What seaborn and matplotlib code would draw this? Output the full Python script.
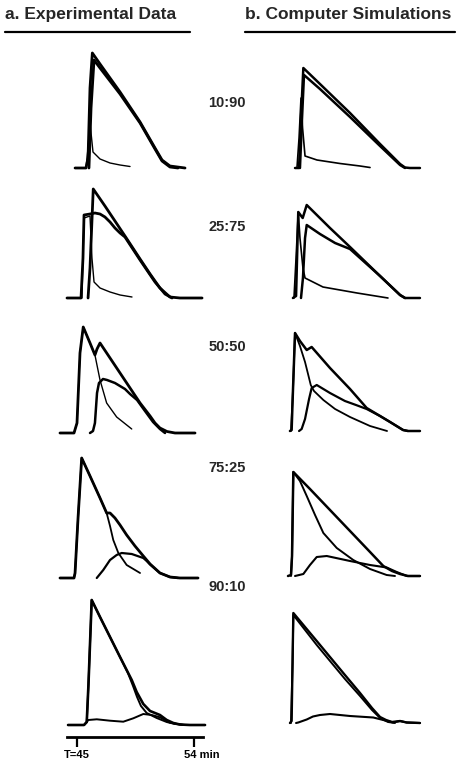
import seaborn as sns
import matplotlib.pyplot as plt
import matplotlib.transforms as mtransforms
from matplotlib.lines import Line2D

# time (min) , detector signal (arbitrary units)
# ---- a. experimental data ----
EXP_10_90_TOTAL = [(44.85, 0), (45.69, 0), (45.85, 10), (46.00, 80), (46.18, 115), (46.77, 104), (48.31, 76),
                   (49.85, 46), (51.00, 20), (51.54, 8), (52.15, 2), (53.31, 0)]
EXP_10_90_SECOND = [(45.92, 0), (46.08, 60), (46.31, 108), (46.77, 100), (48.31, 74), (49.85, 45), (51.00, 19),
                    (51.54, 7), (52.15, 1), (52.77, 0)]
EXP_10_90_FIRST = [(45.69, 0), (45.85, 20), (46.00, 45), (46.12, 30), (46.23, 16), (46.77, 9), (47.54, 5),
                   (48.31, 3), (49.08, 1.5)]

EXP_25_75_TOTAL = [(44.23, 0), (45.31, 0), (45.46, 40), (45.54, 83), (46.00, 84), (46.38, 85), (46.77, 84),
                   (47.15, 81), (47.54, 76), (47.92, 70), (48.31, 65), (48.69, 61), (49.85, 38), (51.00, 16),
                   (51.77, 4), (52.31, 0)]
EXP_25_75_SECOND = [(45.85, 0), (46.00, 30), (46.25, 109), (47.15, 92), (47.92, 77), (48.69, 62), (49.85, 39),
                    (50.62, 24), (51.38, 10), (52.15, 1), (52.92, 0), (54.62, 0)]
EXP_25_75_FIRST = [(45.38, 0), (45.54, 80), (46.00, 82), (46.15, 40), (46.31, 16), (46.77, 10), (47.54, 6),
                   (48.31, 3), (49.23, 1)]

EXP_50_50_TOTAL = [(43.69, 0), (44.77, 0), (45.00, 10), (45.23, 80), (45.48, 106), (46.00, 90), (46.38, 78),
                   (46.54, 84), (46.77, 90), (47.54, 75), (48.31, 60), (49.08, 45), (49.85, 30), (50.62, 17),
                   (51.00, 10), (51.38, 5), (51.92, 1.5), (52.54, 0), (54.08, 0)]
EXP_50_50_FIRST = [(44.77, 0), (45.00, 10), (45.23, 80), (45.48, 106), (46.00, 90), (46.38, 78), (46.77, 53),
                   (47.28, 30), (48.05, 16), (49.21, 4)]
EXP_50_50_SECOND = [(46.00, 0), (46.23, 2), (46.38, 10), (46.54, 40), (46.69, 50), (47.00, 54), (47.31, 53),
                    (47.92, 50), (48.69, 44), (49.08, 39), (49.62, 33), (50.23, 22), (50.85, 11), (51.38, 4),
                    (51.77, 0)]

EXP_75_25_TOTAL = [(43.69, 0), (44.77, 0), (44.85, 5), (45.08, 60), (45.36, 120), (46.00, 102), (46.77, 80),
                   (47.28, 65), (47.54, 65), (47.92, 60), (48.31, 53), (48.82, 43), (49.46, 32), (50.10, 22),
                   (50.62, 14), (51.38, 5), (52.15, 1), (52.92, 0), (54.31, 0)]
EXP_75_25_FIRST = [(44.77, 0), (44.85, 5), (45.08, 60), (45.36, 120), (46.00, 102), (46.77, 80), (47.28, 65),
                   (47.54, 52), (47.79, 38), (48.18, 25), (48.82, 13), (49.85, 5)]
EXP_75_25_SECOND = [(46.52, 0), (47.02, 8), (47.54, 18), (48.05, 23), (48.44, 25), (49.21, 24), (50.10, 20),
                    (50.36, 17), (50.62, 13.5), (51.38, 5), (52.15, 1), (52.77, 0)]

EXP_90_10_TOTAL = [(44.31, 0), (45.54, 0), (45.75, 3), (45.88, 40), (46.13, 125), (46.77, 108), (47.54, 88),
                   (48.31, 68), (49.21, 45), (49.59, 33), (50.10, 21), (50.62, 14), (51.38, 10), (51.90, 5),
                   (52.41, 2), (52.92, 0.5), (53.69, 0), (54.85, 0)]
EXP_90_10_FIRST = [(45.54, 0), (45.75, 3), (45.88, 40), (46.13, 125), (46.77, 108), (47.54, 88), (48.31, 68),
                   (48.92, 52), (49.31, 39), (49.62, 28), (49.92, 19), (50.36, 12), (51.13, 7), (51.90, 3),
                   (52.54, 1), (53.31, 0)]
EXP_90_10_SECOND = [(45.69, 2), (45.87, 5), (46.52, 5.7), (47.54, 4.3), (48.56, 3.3), (49.33, 6.7), (50.10, 11),
                    (50.75, 10), (51.38, 7.7), (52.15, 2.3), (53.18, 0)]

# ---- b. computer simulations ----
SIM_10_90_TOTAL = [(45.54, 0), (45.85, 0), (46.00, 50), (46.18, 100), (47.46, 84), (49.77, 55), (52.08, 24),
                   (53.62, 4), (54.00, 0.5), (54.38, 0), (55.15, 0)]
SIM_10_90_SECOND = [(45.92, 0), (46.08, 50), (46.23, 93), (47.46, 79), (49.77, 51), (52.08, 22), (53.62, 3),
                    (54.00, 0)]
SIM_10_90_FIRST = [(45.69, 0), (45.85, 30), (46.00, 70), (46.12, 40), (46.31, 12), (47.23, 8), (49.00, 4.5),
                   (50.54, 2), (51.31, 0.5)]

SIM_25_75_TOTAL = [(45.38, 0), (45.62, 2), (45.79, 86), (46.13, 80), (46.44, 93), (48.23, 70), (49.77, 51),
                   (52.08, 22), (53.62, 3), (54.00, 0), (55.15, 0)]
SIM_25_75_SECOND = [(46.00, 0), (46.15, 20), (46.31, 60), (46.44, 73), (47.46, 64), (48.62, 55), (49.77, 49),
                    (52.08, 22), (53.62, 3), (54.00, 0)]
SIM_25_75_FIRST = [(45.46, 0), (45.62, 40), (45.79, 86), (45.92, 60), (46.15, 30), (46.31, 20), (47.69, 11),
                   (50.31, 5), (52.69, 0)]

SIM_50_50_TOTAL = [(45.15, 0), (45.28, 1), (45.38, 40), (45.54, 98), (45.92, 90), (46.44, 81), (46.82, 84),
                   (48.23, 63), (49.77, 42), (51.05, 23), (52.08, 15), (52.85, 9), (53.85, 1), (54.23, 0),
                   (55.15, 0)]
SIM_50_50_FIRST = [(45.23, 0), (45.38, 40), (45.54, 98), (45.92, 85), (46.31, 69), (46.56, 56), (46.75, 46),
                   (47.00, 40), (47.72, 31), (48.62, 22), (49.77, 14), (51.31, 5), (52.62, 0)]
SIM_50_50_SECOND = [(45.85, 0), (46.05, 2), (46.31, 12), (46.62, 32), (46.82, 43), (47.21, 46), (48.23, 38),
                    (49.38, 30), (50.23, 26), (51.05, 22), (52.08, 15), (52.85, 9), (53.85, 1), (54.23, 0)]

SIM_75_25_TOTAL = [(45.00, 0), (45.23, 1), (45.31, 20), (45.41, 104), (46.69, 87), (48.23, 66), (49.77, 45),
                   (51.31, 24), (52.33, 10), (53.00, 5), (53.62, 2), (54.23, 0), (55.15, 0)]
SIM_75_25_FIRST = [(45.23, 0), (45.31, 20), (45.41, 104), (45.92, 95), (46.44, 80), (47.08, 61), (47.72, 43),
                   (48.75, 28), (50.02, 16), (51.31, 7), (52.59, 1), (53.23, 0)]
SIM_75_25_SECOND = [(45.54, 0), (46.18, 2), (46.69, 11), (47.21, 19), (47.98, 20), (49.77, 15), (51.31, 11),
                    (52.59, 8.5), (53.36, 4), (54.13, 0), (55.15, 0)]

SIM_90_10_TOTAL = [(45.15, 0), (45.28, 2), (45.35, 60), (45.41, 110), (46.31, 96), (47.21, 82), (48.23, 66),
                   (49.38, 48), (50.54, 30), (51.46, 15), (52.08, 6), (52.54, 3), (53.00, 1), (53.62, 2),
                   (54.13, 0.5), (55.15, 0)]
SIM_90_10_FIRST = [(45.23, 0), (45.35, 60), (45.41, 108), (46.31, 93), (47.21, 78), (48.23, 62), (49.38, 44),
                   (50.54, 27), (51.46, 13), (52.08, 5), (52.69, 1), (53.23, 0)]
SIM_90_10_SECOND = [(45.62, 0), (45.79, 0.5), (46.44, 3.5), (46.92, 6.5), (47.46, 8), (48.23, 9), (49.77, 7),
                    (51.56, 5.5), (52.33, 3), (53.10, 0.5), (53.62, 2), (54.13, 0.5), (55.15, 0)]

RATIOS = ["10:90", "25:75", "50:50", "75:25", "90:10"]
TIME_TICKS = [45, 54]
TIME_LABELS = ["T=45", "54 min"]
TITLES = ["a. Experimental Data", "b. Computer Simulations"]

# (total, first, second) per row, with line widths
EXP_ROWS = [
    [(EXP_10_90_TOTAL, 2.0), (EXP_10_90_SECOND, 2.0), (EXP_10_90_FIRST, 1.0)],
    [(EXP_25_75_TOTAL, 2.0), (EXP_25_75_SECOND, 2.0), (EXP_25_75_FIRST, 1.0)],
    [(EXP_50_50_TOTAL, 2.0), (EXP_50_50_FIRST, 1.0), (EXP_50_50_SECOND, 1.8)],
    [(EXP_75_25_TOTAL, 2.0), (EXP_75_25_FIRST, 1.3), (EXP_75_25_SECOND, 1.6)],
    [(EXP_90_10_TOTAL, 1.9), (EXP_90_10_FIRST, 1.4), (EXP_90_10_SECOND, 1.4)],
]
SIM_ROWS = [
    [(SIM_10_90_TOTAL, 1.8), (SIM_10_90_SECOND, 1.8), (SIM_10_90_FIRST, 1.2)],
    [(SIM_25_75_TOTAL, 1.8), (SIM_25_75_SECOND, 1.8), (SIM_25_75_FIRST, 1.2)],
    [(SIM_50_50_TOTAL, 1.8), (SIM_50_50_FIRST, 1.3), (SIM_50_50_SECOND, 1.6)],
    [(SIM_75_25_TOTAL, 1.8), (SIM_75_25_FIRST, 1.4), (SIM_75_25_SECOND, 1.5)],
    [(SIM_90_10_TOTAL, 1.7), (SIM_90_10_FIRST, 1.4), (SIM_90_10_SECOND, 1.5)],
]

# layout in pixels of the 459x761 canvas
W, H = 459, 761
PX_PER_MIN = 13
COLS = {"a": dict(t45=77, left=57, right=214, rows=EXP_ROWS, base=[168, 298, 433, 578, 725]),
        "b": dict(t45=288, left=278, right=432, rows=SIM_ROWS, base=[168, 298, 431, 576, 723])}
DROP, RISE = 12, 132

sns.set_style("white")
plt.rcParams["font.family"] = ["Liberation Sans", "DejaVu Sans"]

fig = plt.figure(figsize=(W / 100, H / 100), dpi=100)

for key, col in COLS.items():
    xlim = (45 + (col["left"] - col["t45"]) / PX_PER_MIN, 45 + (col["right"] - col["t45"]) / PX_PER_MIN)
    for r, curves in enumerate(col["rows"]):
        base = col["base"][r]
        ax = fig.add_axes([col["left"] / W, (H - base - DROP) / H,
                           (col["right"] - col["left"]) / W, (DROP + RISE) / H])
        ax.patch.set_alpha(0)
        for pts, lw in curves:
            t = [p[0] for p in pts]
            s = [p[1] for p in pts]
            sns.lineplot(x=t, y=s, ax=ax, color="black", linewidth=lw, sort=False, estimator=None)
        ax.set_xlim(*xlim)
        ax.set_ylim(-DROP, RISE)
        ax.set_xlabel("")
        ax.set_ylabel("")
        if key == "a" and r == len(col["rows"]) - 1:
            for side in ["left", "right", "top"]:
                ax.spines[side].set_visible(False)
            ax.spines["bottom"].set_linewidth(2.0)
            ax.spines["bottom"].set_color("black")
            ax.spines["bottom"].set_bounds(44.23, 54.69)
            ax.set_yticks([])
            ax.set_xticks(TIME_TICKS, TIME_LABELS)
            ax.tick_params(axis="x", length=7, width=1.6, direction="out", pad=2,
                           labelsize=8, colors="black", bottom=True)
            for lab in ax.get_xticklabels():
                lab.set_fontweight("bold")
            lab = ax.get_xticklabels()[1]
            lab.set_transform(lab.get_transform() + mtransforms.ScaledTranslation(0.08, 0, fig.dpi_scale_trans))
        else:
            ax.axis("off")

# column titles with underline
fig.text(5 / W, 1 - 15 / H, TITLES[0], ha="left", va="center", fontsize=12.5, fontweight="bold")
fig.text(245 / W, 1 - 15 / H, TITLES[1], ha="left", va="center", fontsize=12.5, fontweight="bold")
fig.add_artist(Line2D([5 / W, 190 / W], [1 - 32 / H] * 2, color="black", lw=1.6))
fig.add_artist(Line2D([245 / W, 455 / W], [1 - 32 / H] * 2, color="black", lw=1.6))

# mixture ratio labels
for lab, y in zip(RATIOS, [103, 227, 347, 468, 587]):
    fig.text(227 / W, 1 - y / H, lab, ha="center", va="center", fontsize=10.5, fontweight="bold")

fig.savefig("out.png", dpi=100)
